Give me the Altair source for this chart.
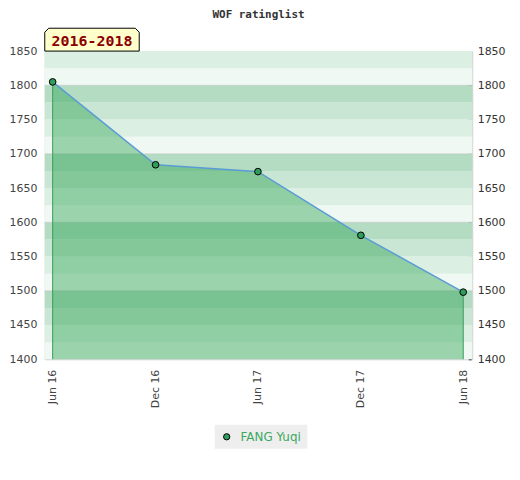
import altair as alt
import pandas as pd

# ---- data ----
dates = ["2016-06-01", "2016-12-01", "2017-06-01", "2017-12-01", "2018-06-01"]
ratings = [1805, 1684, 1674, 1581, 1498]
player = "FANG Yuqi"
title_text = "WOF ratinglist"
badge_text = "2016-2018"
y_min, y_max = 1400, 1850
right_tick_values = list(range(1400, 1851, 10))
left_label_values = list(range(1400, 1851, 50))
grid_values = [1500, 1600, 1700, 1800]
stripe_colors = ["#eff8f2", "#dcefe3", "#c8e6d3", "#b3dcc3"]  # for offsets 0,25,50,75 within each hundred

df = pd.DataFrame({
    "date": dates,
    "rating": ratings,
    "name": [player] * len(dates),
    "edge": [i in (0, len(dates) - 1) for i in range(len(dates))],
})
band_lo = list(range(y_min, y_max, 25))
bands = pd.DataFrame({
    "lo": band_lo,
    "hi": [b + 25 for b in band_lo],
    "col": [stripe_colors[(b % 100) // 25] for b in band_lo],
})
grid_df = pd.DataFrame({"g": grid_values})
badge_df = pd.DataFrame({"label": [badge_text]})

yscale = alt.Scale(domain=[y_min, y_max], nice=False, zero=False)
xscale = alt.Scale(
    type="utc",
    domain=[alt.DateTime(year=2016, month=5, date=18, utc=True),
            alt.DateTime(year=2018, month=6, date=17, utc=True)],
    nice=False,
)
xenc = alt.X(
    "date:T", scale=xscale, title=None,
    axis=alt.Axis(values=[alt.DateTime(year=int(d[:4]), month=int(d[5:7]), date=1, utc=True) for d in dates],
                  format="%b %y", labelAngle=-90, ticks=False, tickSize=0, domain=False,
                  grid=False, labelPadding=10,
                  labelFont="DejaVu Sans", labelFontSize=11, labelColor="#444444"),
)

stripes = alt.Chart(bands).mark_rect().encode(
    y=alt.Y("lo:Q", scale=yscale, axis=None),
    y2="hi:Q",
    color=alt.Color("col:N", scale=None),
)

grid = alt.Chart(grid_df).mark_rule(color="#bbbbbb", opacity=0.5, strokeWidth=1).encode(
    y=alt.Y("g:Q", scale=yscale, axis=None),
)

area = alt.Chart(df).mark_area(color="#27a04c", opacity=0.42).encode(
    x=xenc,
    y=alt.Y("rating:Q", scale=yscale, title=None,
            axis=alt.Axis(orient="left", ticks=False, tickSize=0, domain=False, grid=False,
                          values=left_label_values, format="d", labelPadding=8,
                          labelFont="DejaVu Sans", labelFontSize=11, labelColor="#444444")),
    y2=alt.datum(y_min),
)

edges = alt.Chart(df).mark_rule(color="#36a05a", strokeWidth=1).encode(
    x=xenc,
    y=alt.Y("rating:Q", scale=yscale, axis=None),
    y2=alt.datum(y_min),
).transform_filter("datum.edge")

line = alt.Chart(df).mark_line(color="#5b9bd5", strokeWidth=1.5).encode(
    x=xenc,
    y=alt.Y("rating:Q", scale=yscale, title=None,
            axis=alt.Axis(orient="right", values=right_tick_values, grid=False, domain=False,
                          tickSize=3, tickColor="#222222", offset=-4, labelPadding=6,
                          format="d",
                          labelExpr="datum.value % 50 == 0 ? datum.label : ''",
                          labelFont="DejaVu Sans", labelFontSize=11, labelColor="#333333")),
)

points = alt.Chart(df).mark_point(filled=True, size=45, stroke="black", strokeWidth=1, opacity=1).encode(
    x=xenc,
    y=alt.Y("rating:Q", scale=yscale, axis=None),
    color=alt.Color("name:N", scale=alt.Scale(range=["#2f9e5a"]), title=None,
                    legend=alt.Legend(orient="none", legendX=171, legendY=376,
                                      fillColor="#eeeeee", padding=6,
                                      symbolType="circle", symbolSize=40,
                                      symbolStrokeColor="black", symbolStrokeWidth=1,
                                      labelColor="#3aa860", labelFont="DejaVu Sans",
                                      labelFontSize=12, labelOffset=8)),
)

badge_shape = "M-1,0.242 L-1,-0.158 L-0.916,-0.242 L0.916,-0.242 L1,-0.158 L1,0.242 Z"
badge_box = alt.Chart(badge_df).mark_point(
    shape=badge_shape, size=9025, filled=True, fill="#ffffcc", stroke="black",
    strokeWidth=1, opacity=1,
).encode(x=alt.value(47.5), y=alt.value(-11.5))

badge_label = alt.Chart(badge_df).mark_text(
    font="DejaVu Sans Mono", fontSize=15, fontWeight="bold", color="#8b0000",
    align="center", baseline="middle",
).encode(text="label:N", x=alt.value(47.5), y=alt.value(-10.5))

chart = alt.layer(
    stripes, grid, area, edges, line, points, badge_box, badge_label
).resolve_axis(y="independent").properties(
    width=430, height=310,
    autosize="none",
    padding={"left": 37, "top": 42, "right": 40, "bottom": 100},
    title=alt.TitleParams(title_text, font="DejaVu Sans Mono", fontSize=11, fontWeight="bold",
                          color="#333333", anchor="middle", offset=6),
).configure_view(stroke="#cccccc", strokeWidth=1)

chart.save("out.html", embed_options={"renderer": "svg", "actions": False})
